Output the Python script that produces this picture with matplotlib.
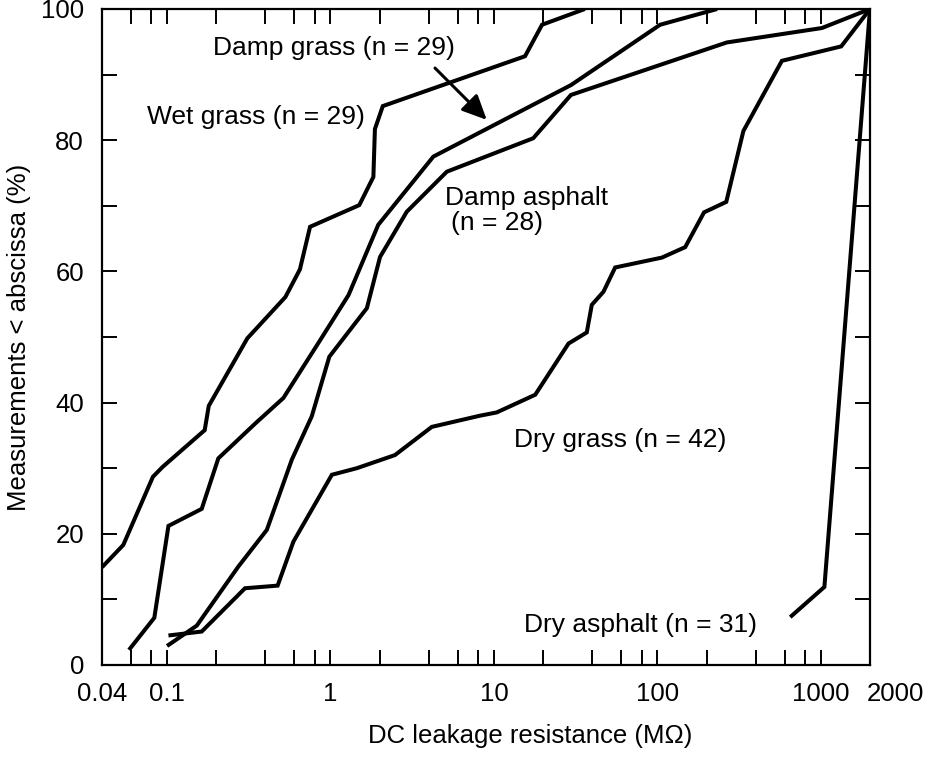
import matplotlib
matplotlib.use("Agg")
import matplotlib.pyplot as plt
from matplotlib.ticker import FixedLocator, FixedFormatter, NullFormatter
from matplotlib.transforms import ScaledTranslation

plt.rcParams['font.family'] = ['Liberation Sans', 'DejaVu Sans']

# ---- data ----
wet_grass_x = [0.04, 0.054, 0.082, 0.094, 0.17, 0.18, 0.31, 0.53, 0.65, 0.75, 1.5, 1.83, 1.87, 2.09, 15.5, 19.7, 36]
wet_grass_y = [14.9, 18.3, 28.7, 30.2, 35.8, 39.5, 49.8, 56.1, 60.3, 66.8, 70.1, 74.4, 81.7, 85.2, 92.8, 97.6, 100]

damp_grass_x = [0.0585, 0.0836, 0.102, 0.163, 0.206, 0.346, 0.515, 0.864, 1.29, 1.96, 4.26, 29.6, 104, 232]
damp_grass_y = [2.3, 7.2, 21.2, 23.8, 31.5, 36.8, 40.7, 49.5, 56.4, 67.1, 77.5, 88.4, 97.6, 100]

damp_asphalt_x = [0.1, 0.152, 0.273, 0.408, 0.58, 0.768, 0.984, 1.67, 2.01, 2.93, 5.15, 17.4, 29.6, 266, 1016, 2000]
damp_asphalt_y = [2.9, 6.0, 15.0, 20.6, 31.3, 37.9, 47.0, 54.4, 62.2, 69.1, 75.2, 80.3, 86.9, 94.9, 97.1, 100]

dry_grass_x = [0.102, 0.163, 0.30, 0.475, 0.593, 1.02, 1.45, 2.48, 4.17, 8.2, 10.4, 17.9, 28.6, 37, 39.7,
               46.8, 55.2, 106.5, 148, 193, 264, 336, 578, 1333, 2000]
dry_grass_y = [4.5, 5.1, 11.7, 12.1, 18.8, 29.0, 30.0, 32.0, 36.3, 38.0, 38.5, 41.2, 49.0, 50.7, 54.9,
               56.9, 60.6, 62.1, 63.7, 69.0, 70.6, 81.4, 92.1, 94.3, 100]

dry_asphalt_x = [650, 1052, 2000]
dry_asphalt_y = [7.3, 11.9, 100]

x_label_ticks = [0.04, 0.1, 1, 10, 100, 1000, 2000]
x_label_text = ["0.04", "0.1", "1", "10", "100", "1000", "2000"]
x_minor_ticks = [0.06, 0.08, 0.2, 0.4, 0.6, 0.8, 2, 4, 6, 8, 20, 40, 60, 80, 200, 400, 600, 800]
y_major_ticks = [0, 20, 40, 60, 80, 100]
y_minor_ticks = [10, 30, 50, 70, 90]

# ---- figure ----
fig = plt.figure(figsize=(9.3, 7.58), dpi=100)
ax = fig.add_axes([102/930, 1-665/758, (870-102)/930, (665-9)/758])
ax.set_xscale('log')
ax.set_xlim(0.04, 2000)
ax.set_ylim(0, 100)

lw = 2.9
for xs, ys in [(wet_grass_x, wet_grass_y), (damp_grass_x, damp_grass_y),
               (damp_asphalt_x, damp_asphalt_y), (dry_grass_x, dry_grass_y),
               (dry_asphalt_x, dry_asphalt_y)]:
    ax.plot(xs, ys, color='black', lw=lw, solid_joinstyle='miter', solid_capstyle='butt')

# ticks
ax.xaxis.set_major_locator(FixedLocator(x_label_ticks))
ax.xaxis.set_major_formatter(FixedFormatter(x_label_text))
ax.xaxis.set_minor_locator(FixedLocator(x_minor_ticks))
ax.xaxis.set_minor_formatter(NullFormatter())
ax.yaxis.set_major_locator(FixedLocator(y_major_ticks))
ax.yaxis.set_minor_locator(FixedLocator(y_minor_ticks))

ax.tick_params(which='both', direction='in', top=True, right=True, length=10.5, width=1.4,
               labelsize=18.5)
ax.tick_params(axis='x', which='major', pad=12)
ax.tick_params(axis='y', which='major', pad=13)
for s in ax.spines.values():
    s.set_linewidth(1.6)

# shift the "2000" label right so it does not collide with "1000"
fig.canvas.draw()
for t, lab in zip(ax.xaxis.get_major_ticks(), x_label_text):
    if lab == "2000":
        t.label1.set_transform(t.label1.get_transform() +
                               ScaledTranslation(0.25, 0, fig.dpi_scale_trans))

ax.set_xlabel('DC leakage resistance (M\u03a9)', fontsize=18.5, labelpad=13,
              x=(530 - 102) / 768)
ax.set_ylabel('Measurements < abscissa (%)', fontsize=18.5, labelpad=7)

fs = 19
ax.text(0.19, 93.0, 'Damp grass (n = 29)', fontsize=fs, ha='left', va='baseline')
ax.text(0.0751, 82.5, 'Wet grass (n = 29)', fontsize=fs, ha='left', va='baseline')
ax.text(5.02, 70.1, 'Damp asphalt', fontsize=fs, ha='left', va='baseline')
ax.text(5.5, 66.3, '(n = 28)', fontsize=fs, ha='left', va='baseline')
ax.text(13.2, 33.3, 'Dry grass (n = 42)', fontsize=fs, ha='left', va='baseline')
ax.text(15.2, 5.1, 'Dry asphalt (n = 31)', fontsize=fs, ha='left', va='baseline')

ax.annotate('', xy=(9.04, 83.1), xytext=(4.36, 91.0),
            arrowprops=dict(arrowstyle='-|>,head_length=0.6,head_width=0.28', lw=2.2,
                            color='black', mutation_scale=25, shrinkA=0, shrinkB=0))

fig.savefig('out.png', dpi=100)
